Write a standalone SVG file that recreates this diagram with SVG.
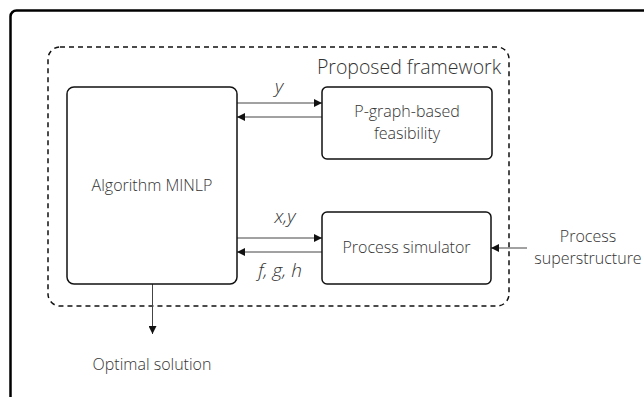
<svg xmlns="http://www.w3.org/2000/svg" width="644" height="397" viewBox="0 0 644 397">
<defs>
<style>
.t{font-family:"Open Sans","Liberation Sans",sans-serif;font-weight:300;font-size:16px;fill:#333;text-anchor:middle}
.i{font-style:italic;font-size:19px}
.box{fill:#fff;stroke:#111;stroke-width:1.5}
.c{stroke:#444;stroke-width:1;fill:none}
</style>
<marker id="ah" viewBox="0 0 10 10" refX="10" refY="5" markerWidth="8" markerHeight="8" markerUnits="userSpaceOnUse" orient="auto">
<path d="M0,0 L10,5 L0,10 z" fill="#111"/>
</marker>
</defs>
<rect width="644" height="397" fill="#fff"/>
<rect x="10.5" y="10.5" width="700" height="500" rx="6" fill="none" stroke="#000" stroke-width="2.5"/>
<g id="framework">
<rect x="48" y="47" width="461" height="259" rx="12" fill="none" stroke="#111" stroke-width="1.5" stroke-dasharray="5,4"/>
<text class="t" x="409" y="74" style="font-size:19.5px">Proposed framework</text>
</g>
<g id="connectors">
<line class="c" x1="237" y1="103" x2="322" y2="103" marker-end="url(#ah)"/>
<line class="c" x1="322" y1="117" x2="237" y2="117" marker-end="url(#ah)"/>
<line class="c" x1="237" y1="238" x2="322" y2="238" marker-end="url(#ah)"/>
<line class="c" x1="322" y1="252" x2="237" y2="252" marker-end="url(#ah)"/>
<line class="c" x1="527" y1="248" x2="491" y2="248" stroke="#999" marker-end="url(#ah)"/>
<line class="c" x1="152.5" y1="284" x2="152.5" y2="334" marker-end="url(#ah)"/>
<text class="t i" x="279" y="93">y</text>
<text class="t i" x="285" y="223">x,y</text>
<text class="t i" x="280" y="277">f, g, h</text>
</g>
<g id="minlp">
<rect class="box" x="67" y="87" width="170" height="197" rx="7"/>
<text class="t" x="152" y="191">Algorithm MINLP</text>
</g>
<g id="pgraph">
<rect class="box" x="322" y="87" width="170" height="72" rx="5"/>
<text class="t" x="407" y="116.5">P-graph-based</text>
<text class="t" x="407" y="138.5">feasibility</text>
</g>
<g id="simulator">
<rect class="box" x="322" y="212" width="169" height="72" rx="5"/>
<text class="t" x="406.5" y="253">Process simulator</text>
</g>
<g id="superstructure">
<text class="t" x="588" y="242">Process</text>
<text class="t" x="588" y="264">superstructure</text>
</g>
<g id="optimal">
<text class="t" x="152" y="370">Optimal solution</text>
</g>
</svg>
